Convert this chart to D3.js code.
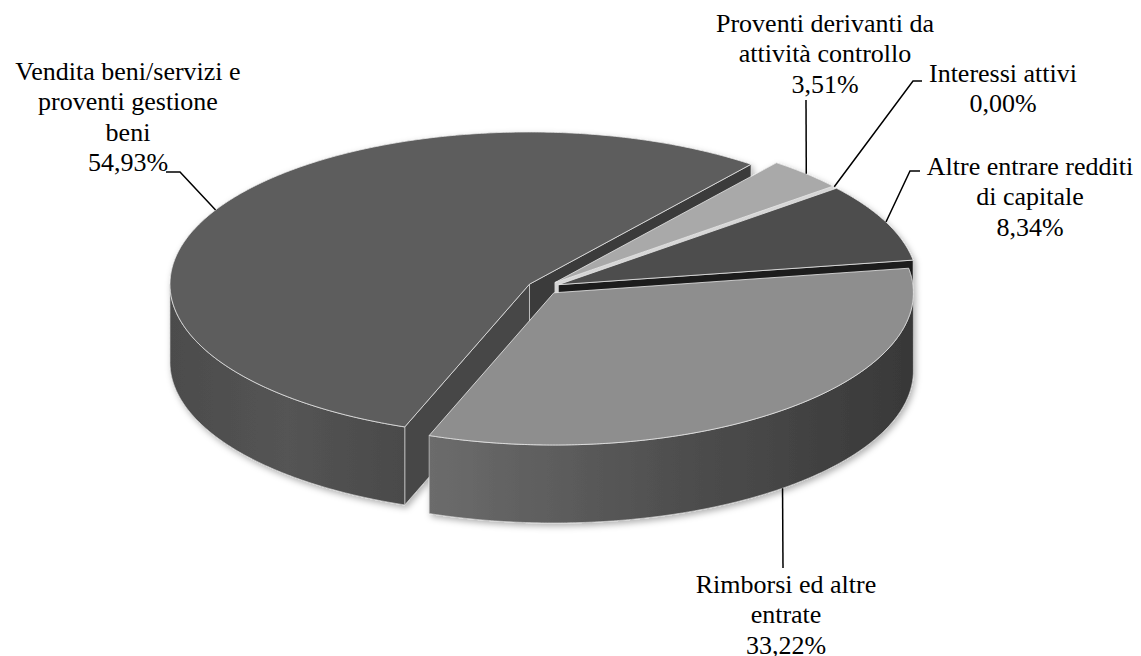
<!DOCTYPE html>
<html>
<head>
<meta charset="utf-8">
<script src="https://cdn.jsdelivr.net/npm/d3@7"></script>
<style>
  body { margin: 0; background: #fff; }
</style>
</head>
<body>
<script>
// data
var categories = ["Vendita beni/servizi e proventi gestione beni", "Proventi derivanti da attività controllo",
  "Interessi attivi", "Altre entrare redditi di capitale", "Rimborsi ed altre entrate"];
var values = [54.93, 3.51, 0.00, 8.34, 33.22];
var percentLabels = ["54,93%", "3,51%", "0,00%", "8,34%", "33,22%"];
var labelLines = [
  ["Vendita beni/servizi e", "proventi gestione", "beni"],
  ["Proventi derivanti da", "attività controllo"],
  ["Interessi attivi"],
  ["Altre entrare redditi", "di capitale"],
  ["Rimborsi ed altre", "entrate"]
];

const W = 1141, H = 656;
const cx = 543.6, cy = 287.5, rx = 359.5, ry = 152.2, depth = 78, explode = 0.045;
const deg = Math.PI / 180;
const start = 200.3 * deg;

// grey shades
var topColors = ["#5d5d5d", "#a9a9a9", "#e2e2e2", "#4d4d4d", "#8e8e8e"];
var faceColors = [["#474747", "#3b3b3b"], ["#c9c9c9", "#d6d6d6"], ["#eeeeee", "#eeeeee"], ["#2a2a2a", "#1c1c1c"], ["#6a6a6a", "#555555"]];
var wallStops = [["#4c4c4c", "#545454", "#4a4a4a"], ["#999", "#999", "#999"], ["#ccc", "#ccc", "#ccc"], ["#3a3a3a", "#3a3a3a", "#3a3a3a"], ["#6c6c6c", "#4f4f4f", "#383838"]];

// where each label sits and how the leader bends
var labelPos = [[128, 80], [825, 32], [1003, 82], [1030, 175], [786, 593]];
var leaderBends = [[[180, 172], [166, 172]], [[806, 100]], [[913, 81], [922, 81]], [[910, 171], [920, 171]], [[783, 568]]];

const x = d3.scaleLinear().domain([-1, 1]).range([cx - rx, cx + rx]);
const y = d3.scaleLinear().domain([-1, 1]).range([cy + ry, cy - ry]);

const svg = d3.select("body").append("svg")
  .attr("width", W)
  .attr("height", H);

var defs = svg.append("defs");
var shadow = defs.append("filter").attr("id", "shadow")
  .attr("x", "-10%").attr("y", "-10%").attr("width", "120%").attr("height", "130%");
shadow.append("feDropShadow").attr("dx", 2).attr("dy", 3).attr("stdDeviation", 3)
  .attr("flood-color", "#000").attr("flood-opacity", 0.3);

var arcs = d3.pie().sort(null).value(d => d)
  .startAngle(start).endAngle(start + 2 * Math.PI)(values);

function mid(d) { return (d.startAngle + d.endAngle) / 2; }

// point of slice d at angle a, radius r, z = 0 top / depth bottom
function pt(d, a, r, z) {
  var m = mid(d);
  return [x(r * Math.sin(a) + explode * Math.sin(m)), y(r * Math.cos(a) + explode * Math.cos(m)) + z];
}

function arcPts(d, a1, a2, z) {
  var step = 0.5 * deg;
  var out = d3.range(a1, a2, step).map(a => pt(d, a, 1, z));
  out.push(pt(d, a2, 1, z));
  return out;
}

var line = d3.line();
var pie = svg.append("g").attr("filter", "url(#shadow)");

// cut faces that face the viewer
var faces = [];
arcs.forEach(function(d, i) {
  if (d.endAngle - d.startAngle < 1e-6) return;
  if (Math.sin(d.startAngle) < 0) faces.push({ d: d, i: i, a: d.startAngle, c: faceColors[i][0] });
  if (Math.sin(d.endAngle) > 0) faces.push({ d: d, i: i, a: d.endAngle, c: faceColors[i][1] });
});
faces.sort((p, q) => pt(p.d, p.a, 0.5, 0)[1] - pt(q.d, q.a, 0.5, 0)[1]);

pie.selectAll("path.face")
  .data(faces)
  .enter()
  .append("path")
  .attr("class", "face")
  .attr("d", f => line([pt(f.d, 0, 0, 0), pt(f.d, f.a, 1, 0), pt(f.d, f.a, 1, depth), pt(f.d, 0, 0, depth)]) + "Z")
  .attr("fill", f => f.c)
  .attr("stroke", "#d8d8d8")
  .attr("stroke-width", 0.7);

// outer walls (front half only)
var walls = [];
arcs.forEach(function(d, i) {
  [[90, 270], [450, 630]].forEach(function(r) {
    var lo = Math.max(d.startAngle, r[0] * deg), hi = Math.min(d.endAngle, r[1] * deg);
    if (hi > lo) walls.push({ d: d, i: i, lo: lo, hi: hi });
  });
});

walls.forEach(function(w, k) {
  var x0 = pt(w.d, w.hi, 1, 0)[0], x1 = pt(w.d, w.lo, 1, 0)[0];
  var g = defs.append("linearGradient").attr("id", "wall" + k)
    .attr("gradientUnits", "userSpaceOnUse")
    .attr("x1", Math.min(x0, x1)).attr("x2", Math.max(x0, x1)).attr("y1", 0).attr("y2", 0);
  wallStops[w.i].forEach(function(c, j, all) {
    g.append("stop").attr("offset", j / (all.length - 1)).attr("stop-color", c);
  });
  w.k = k;
});

pie.selectAll("path.wall")
  .data(walls)
  .enter()
  .append("path")
  .attr("class", "wall")
  .attr("d", w => line(arcPts(w.d, w.lo, w.hi, 0).concat(arcPts(w.d, w.lo, w.hi, depth).reverse())) + "Z")
  .attr("fill", w => "url(#wall" + w.k + ")")
  .attr("stroke", "#d0d0d0")
  .attr("stroke-width", 0.7);

// top faces
pie.selectAll("path.top")
  .data(arcs.filter(d => d.endAngle - d.startAngle > 1e-6))
  .enter()
  .append("path")
  .attr("class", "top")
  .attr("d", d => line([pt(d, 0, 0, 0)].concat(arcPts(d, d.startAngle, d.endAngle, 0))) + "Z")
  .attr("fill", d => topColors[d.index])
  .attr("stroke", "#e8e8e8")
  .attr("stroke-width", 0.8)
  .attr("stroke-linejoin", "round");

// leader lines: from slice edge (bottom of wall for front slices)
arcs.forEach(function(d, i) {
  var m = mid(d);
  var p0 = pt(d, m, 1, Math.cos(m) < -0.5 ? depth : 0);
  svg.append("path")
    .attr("d", line([p0].concat(leaderBends[i])))
    .attr("fill", "none")
    .attr("stroke", "#000")
    .attr("stroke-width", 1.5);
});

// labels
labelLines.forEach(function(lines, i) {
  var t = svg.append("text")
    .attr("text-anchor", "middle")
    .attr("font-family", "'Liberation Serif', serif")
    .attr("font-size", 26)
    .attr("fill", "#000")
    .attr("x", labelPos[i][0])
    .attr("y", labelPos[i][1]);
  lines.concat([percentLabels[i]]).forEach(function(s, j) {
    t.append("tspan")
      .attr("x", labelPos[i][0])
      .attr("dy", j === 0 ? 0 : 30.3)
      .text(s);
  });
});
</script>
</body>
</html>
